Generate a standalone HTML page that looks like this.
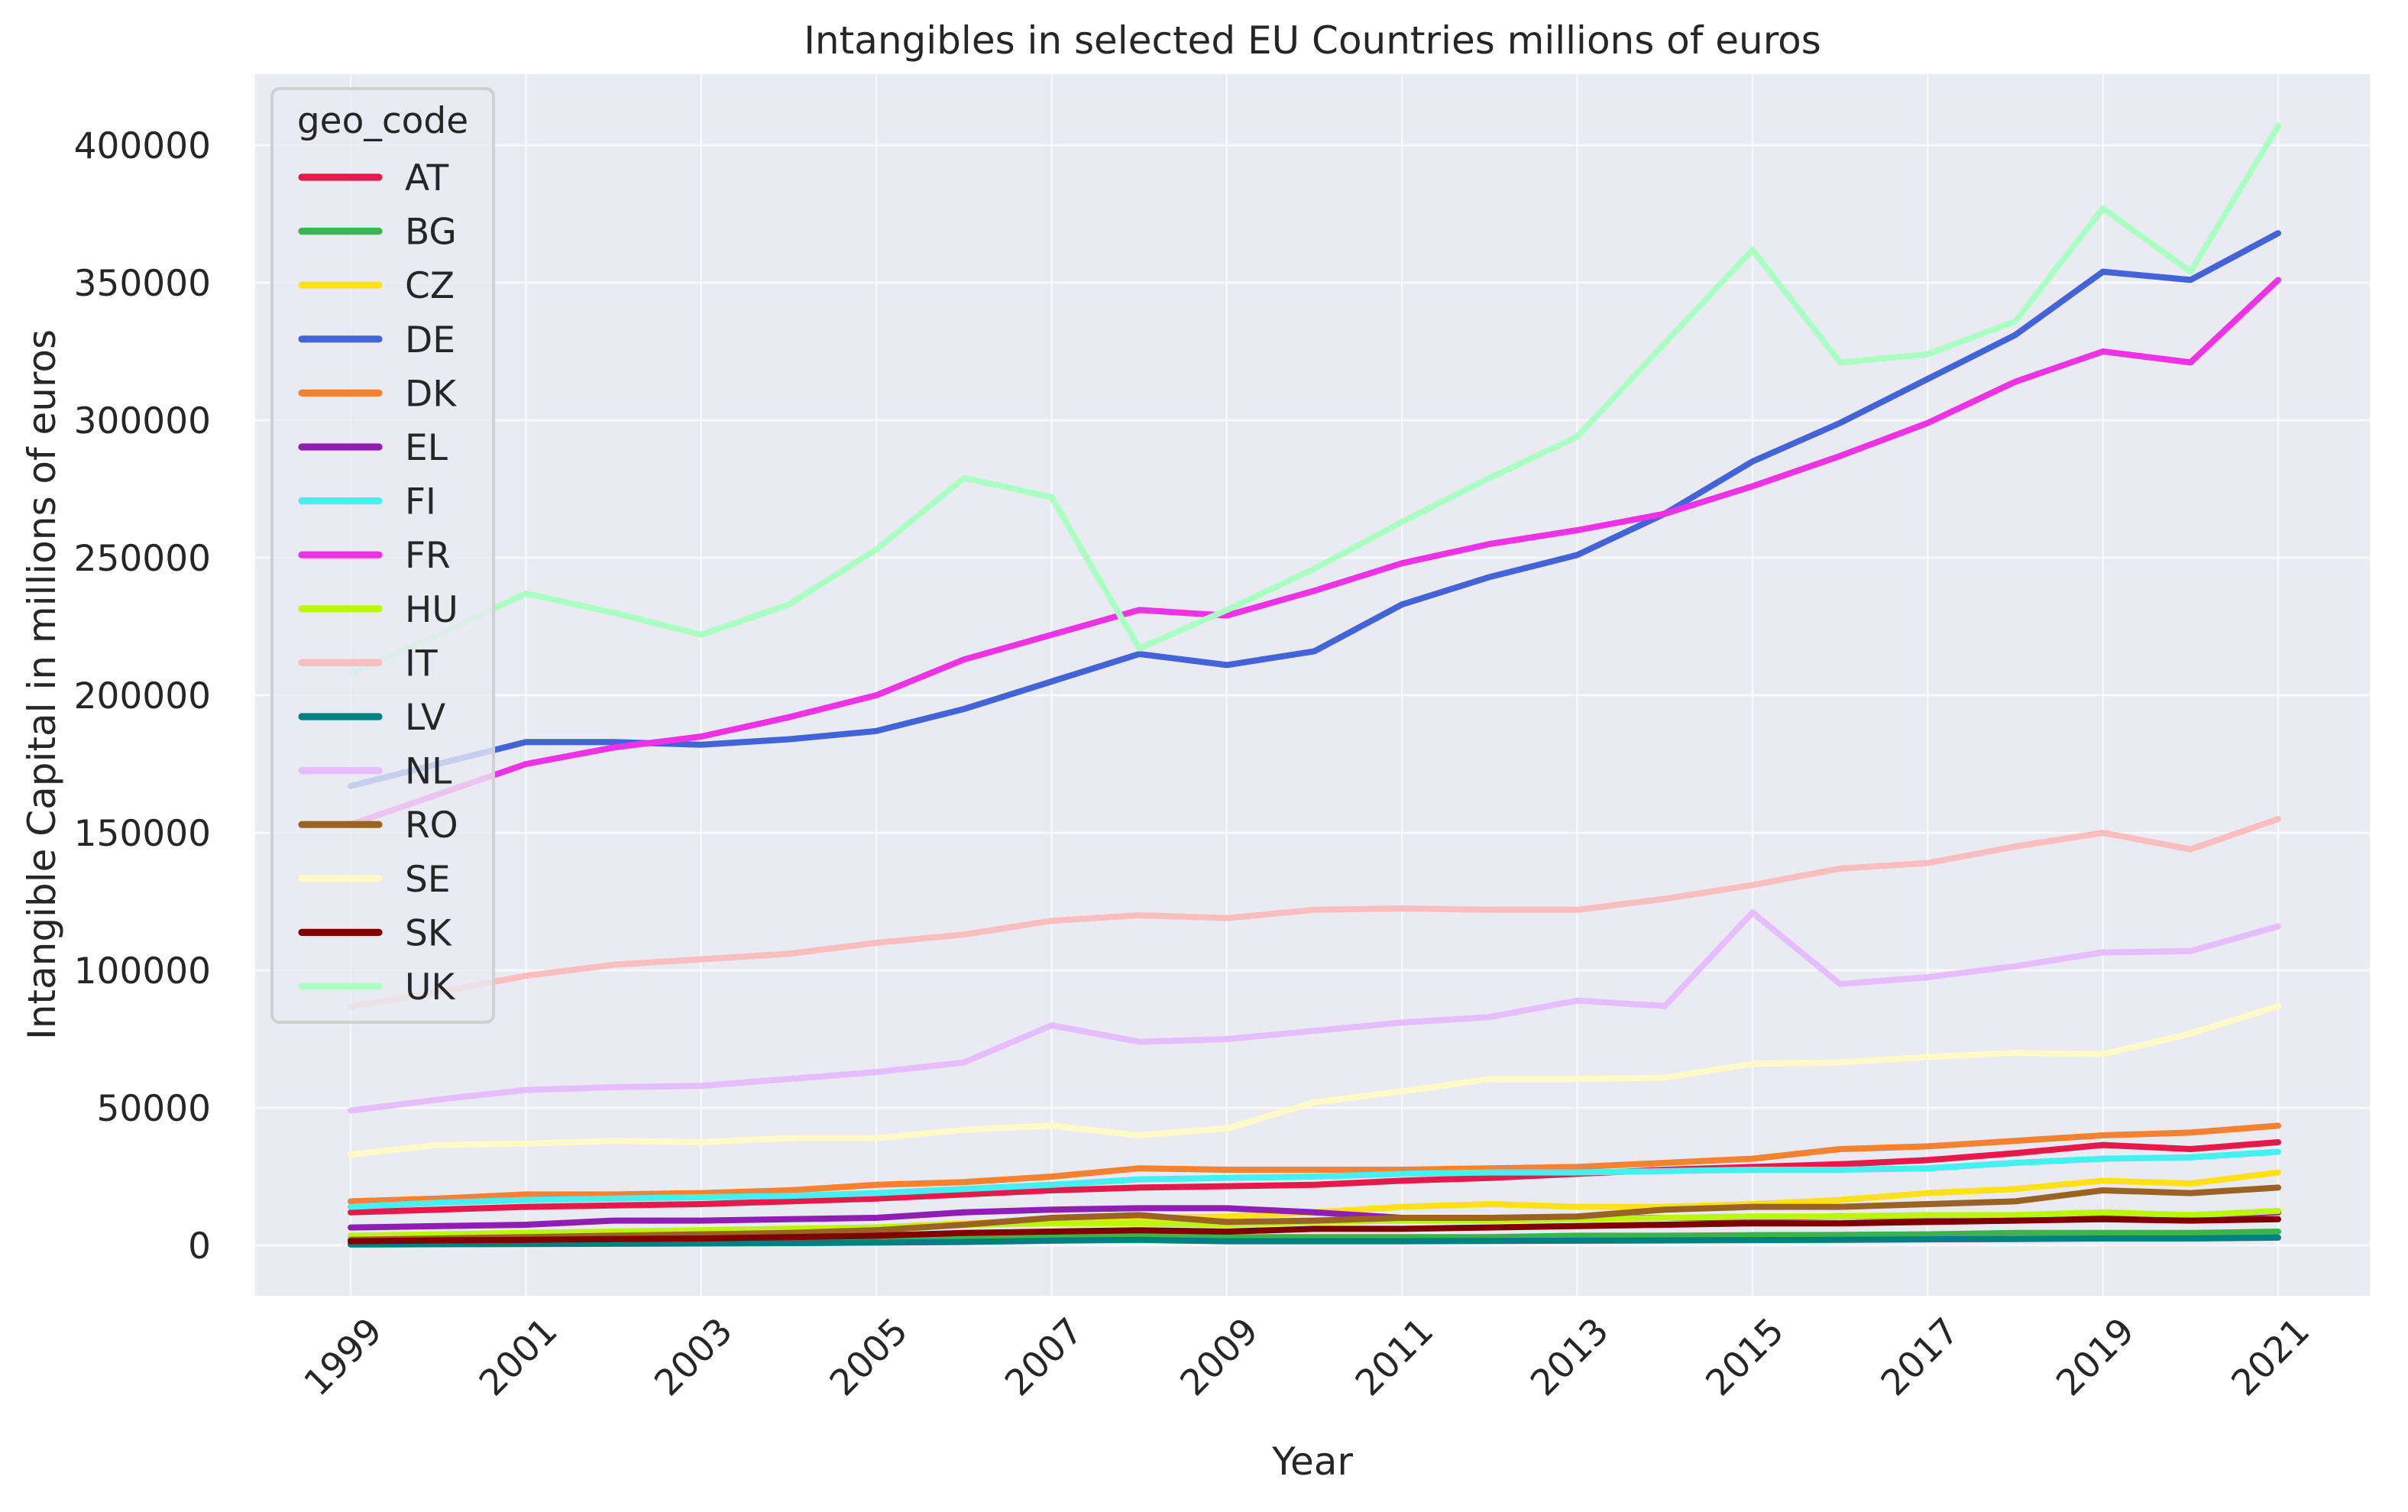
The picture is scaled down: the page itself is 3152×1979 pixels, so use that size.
<!DOCTYPE html>
<html><head><meta charset="utf-8">
<style>
html,body{margin:0;padding:0;background:#fff;}
svg{display:block;font-family:"DejaVu Sans","Liberation Sans",sans-serif;}
</style></head>
<body>
<svg id="chart" width="3152" height="1979" viewBox="0 0 1576 989.5" xmlns="http://www.w3.org/2000/svg">
<rect x="0" y="0" width="1576" height="989.5" fill="#ffffff"/>
<rect x="167" y="48.5" width="1384" height="799.5" fill="#eaeaf2"/>
<g id="grid"></g>
<g id="series"></g>
<g id="axes"></g>
<g id="legend"></g>
<text x="859" y="35" font-size="25" fill="#262626" text-anchor="middle">Intangibles in selected EU Countries millions of euros</text>
<text x="859" y="965" font-size="25" fill="#262626" text-anchor="middle">Year</text>
<text transform="translate(36,448) rotate(-90)" font-size="25" fill="#262626" text-anchor="middle">Intangible Capital in millions of euros</text>
</svg>
<script>
const years = [1999,2000,2001,2002,2003,2004,2005,2006,2007,2008,2009,2010,2011,2012,2013,2014,2015,2016,2017,2018,2019,2020,2021];
const codes = ["AT","BG","CZ","DE","DK","EL","FI","FR","HU","IT","LV","NL","RO","SE","SK","UK"];
const colors = ["#e6194b","#3cb44b","#ffe119","#4363d8","#f58231","#911eb4","#46f0f0","#f032e6","#bcf60c","#fabebe","#008080","#e6beff","#9a6324","#fffac8","#800000","#aaffc3"];
const yTicks = [0,50000,100000,150000,200000,250000,300000,350000,400000];
const xTicks = [1999,2001,2003,2005,2007,2009,2011,2013,2015,2017,2019,2021];
// values in thousands of millions of euros
const AT = [12,13,14,14.5,15,16,17,18.5,20,21,21.5,22,23.5,24.5,26,27.5,28.5,29.5,31,33.5,36.5,35,37.5];
const BG = [0.8,1,1,1.2,1.5,1.8,2,2.5,3,3.5,3,3,3,3,3.5,3.5,3.7,3.8,4,4.5,4.5,4.5,5];
const CZ = [3,4,4.5,5,5.5,6,6.5,8,9,10,10.5,12,14,15,14,14,15,16.5,19,20.5,23.5,22.5,26.5];
const DE = [167,175,183,183,182,184,187,195,205,215,211,216,233,243,251,266,285,299,315,331,354,351,368];
const DK = [16,17,18.5,18.5,19,20,22,23,25,28,27.5,27.5,27.5,28,28.5,30,31.5,35,36,38,40,41,43.5];
const EL = [6.5,7,7.5,9,9,9.5,10,12,13,13.5,13.5,12,10,9.5,10,10,10,10.5,10.5,10.5,11,10,12];
const FI = [14,15.5,16.5,17,17.5,18,19,20.5,22,24,24.5,25,26,26.5,26.5,27,27.5,27.5,28,30,31.5,32,34];
const FR = [153,164,175,181,185,192,200,213,222,231,229,238,248,255,260,266,276,287,299,314,325,321,351];
const HU = [3.5,4,4.5,5,5.5,6,6.5,7.5,8,8,7.5,8.5,9,9,9.5,10,10.5,10.5,11,11,12,11,12.5];
const IT = [87,92,98,102,104,106,110,113,118,120,119,122,122.5,122,122,126,131,137,139,145,150,144,155];
const LV = [0.3,0.4,0.5,0.6,0.7,0.8,1,1.2,1.7,2,1.5,1.5,1.5,1.6,1.7,1.8,1.9,2,2.2,2.3,2.5,2.5,2.8];
const NL = [49,53,56.5,57.5,58,60.5,63,66.5,80,74,75,78,81,83,89,87,121,95,97.5,101.5,106.5,107,116];
const RO = [2,2.5,3,3.5,4,4.5,5.5,7.5,10,11,8.5,9,10,10,10.5,13,14,14,15,16,20,19,21];
const SE = [33,36.5,37,38,37.5,39,39,42,43.5,40,42.5,52,56,60.5,60.5,61,66,66.5,68.5,70,69.5,77,87];
const SK = [1.5,1.8,2,2.3,2.5,3,3.5,4.5,5,5.5,5,6,6,6.5,7,7.5,8,8,8.5,9,9.5,9,9.5];
const UK = [208,222,237,230,222,233,253,279,272,217,231,246,263,279,294,328,362,321,324,336,377,354,407];
const seriesValues = [AT,BG,CZ,DE,DK,EL,FI,FR,HU,IT,LV,NL,RO,SE,SK,UK];

const NS = "http://www.w3.org/2000/svg";
const L = 167, R = 1551, T = 48.5, B = 848;
function xs(yr){ return 229.5 + (yr - 1999) * (1491 - 229.5) / 22; }
function ys(v){ return 815 - v / 50000 * 90; }
function mk(tag, attrs, parent){ const e = document.createElementNS(NS, tag); for (const k in attrs) e.setAttribute(k, attrs[k]); parent.appendChild(e); return e; }

const grid = document.getElementById('grid');
const axes = document.getElementById('axes');
yTicks.forEach(t => {
  const g = mk('line', {x1:L, x2:R, y1:ys(t), y2:ys(t), stroke:'#ffffff', 'stroke-width':1.2, 'stroke-opacity':0.7}, grid);
  
  
  const tx = mk('text', {x:138, y:ys(t)+8.5, 'font-size':23.5, fill:'#262626', 'text-anchor':'end'}, axes);
  tx.textContent = String(t);
  
  
});
xTicks.forEach(t => {
  const g = mk('line', {x1:xs(t), x2:xs(t), y1:T, y2:B, stroke:'#ffffff', 'stroke-width':1.2, 'stroke-opacity':0.7}, grid);
  
  
  const cx = xs(t) - 5, cy = 888;
  const tx = mk('text', {x:cx, y:cy+8, 'font-size':23.5, fill:'#262626', 'text-anchor':'middle', transform:'rotate(-45 '+cx+' '+cy+')'}, axes);
  tx.textContent = String(t);
  
  
});

const sg = document.getElementById('series');
seriesValues.forEach((vals, i) => {
  const pts = vals.map((v, j) => xs(years[j]).toFixed(2) + ',' + ys(v * 1000).toFixed(2)).join(' ');
  const p = mk('polyline', {points:pts, fill:'none', stroke:colors[i], 'stroke-width':4, 'stroke-linejoin':'round', 'stroke-linecap':'round'}, sg);
  
  
});

const lg = document.getElementById('legend');
const box = mk('rect', {x:178, y:58, width:145, height:611, rx:5, fill:'#eaeaf2', 'fill-opacity':0.8, stroke:'#d0d0d0', 'stroke-width':2}, lg);


const lt = mk('text', {x:250.5, y:87, 'font-size':23.5, fill:'#262626', 'text-anchor':'middle'}, lg);
lt.textContent = 'geo_code';


codes.forEach((c, i) => {
  const y = 116 + i * 35.3;
  const ln = mk('line', {x1:197.5, x2:248, y1:y, y2:y, stroke:colors[i], 'stroke-width':4.6, 'stroke-linecap':'round'}, lg);
  
  
  const tx = mk('text', {x:265, y:y+8.5, 'font-size':23.5, fill:'#262626'}, lg);
  tx.textContent = c;
  
  
});
</script>
</body></html>
